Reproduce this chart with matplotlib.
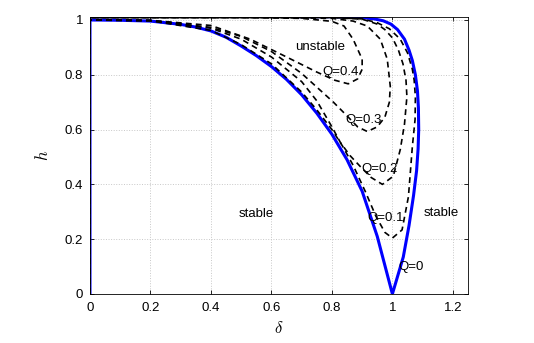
import numpy as np
import matplotlib.pyplot as plt

plt.rcParams['font.family'] = ['Liberation Sans', 'DejaVu Sans']
plt.rcParams['mathtext.fontset'] = 'cm'

# Q = 0 boundary (blue)
d_q0 = [0, 0, 0.1, 0.2, 0.3, 0.35, 0.4, 0.45, 0.5, 0.55, 0.6, 0.65, 0.7, 0.75, 0.8, 0.85,
        0.9, 0.95, 1.0, 1.036, 1.055, 1.07, 1.08, 1.085, 1.087, 1.086, 1.083, 1.076, 1.066,
        1.055, 1.04, 1.017, 0.995, 0.97, 0.94, 0.9, 0.8, 0.68]
h_q0 = [0, 1.0, 0.999, 0.996, 0.984, 0.974, 0.96, 0.937, 0.905, 0.87, 0.83, 0.783, 0.727,
        0.66, 0.583, 0.49, 0.375, 0.21, 0.0, 0.135, 0.25, 0.36, 0.45, 0.53, 0.6, 0.68, 0.74,
        0.8, 0.852, 0.89, 0.93, 0.965, 0.985, 0.997, 1.004, 1.009, 1.012, 1.012]

# dashed curves Q = 0.1 ... 0.4
d_q1 = [0, 0, 0.2, 0.4, 0.5, 0.6, 0.7, 0.75, 0.8, 0.835, 0.87, 0.91, 0.945, 0.975, 1.0,
        1.032, 1.053, 1.066, 1.075, 1.076, 1.072, 1.066, 1.05, 1.026, 0.99, 0.95, 0.9, 0.8,
        0.6, 0.3, 0]
h_q1 = [0, 1.0, 0.997, 0.962, 0.91, 0.84, 0.737, 0.672, 0.6, 0.54, 0.47, 0.375, 0.285,
        0.225, 0.204, 0.234, 0.355, 0.538, 0.637, 0.72, 0.78, 0.82, 0.88, 0.93, 0.968, 0.99,
        1.004, 1.009, 1.009, 1.009, 1.009]

d_q2 = [0, 0, 0.2, 0.4, 0.5, 0.6, 0.7, 0.75, 0.8, 0.828, 0.86, 0.894, 0.93, 0.967, 1.003,
        1.026, 1.04, 1.048, 1.045, 1.035, 1.02, 1.0, 0.975, 0.95, 0.9, 0.8, 0.6, 0.3, 0]
h_q2 = [0, 1.0, 0.998, 0.97, 0.93, 0.865, 0.775, 0.705, 0.61, 0.553, 0.505, 0.465, 0.425,
        0.40, 0.43, 0.527, 0.62, 0.72, 0.78, 0.84, 0.89, 0.935, 0.965, 0.985, 1.003, 1.009,
        1.009, 1.009, 1.009]

d_q3 = [0, 0, 0.2, 0.4, 0.5, 0.6, 0.7, 0.75, 0.805, 0.85, 0.885, 0.917, 0.95, 0.975, 0.99,
        0.993, 0.983, 0.96, 0.917, 0.87, 0.8, 0.6, 0.3, 0]
h_q3 = [0, 1.0, 0.998, 0.973, 0.94, 0.885, 0.805, 0.755, 0.70, 0.65, 0.61, 0.593, 0.61,
        0.645, 0.70, 0.758, 0.857, 0.93, 0.978, 0.996, 1.006, 1.009, 1.009, 1.009]

d_q4 = [0, 0, 0.2, 0.4, 0.53, 0.65, 0.75, 0.81, 0.854, 0.885, 0.9, 0.9, 0.87, 0.84, 0.8,
        0.7, 0.5, 0]
h_q4 = [0, 1.0, 0.999, 0.98, 0.93, 0.865, 0.81, 0.78, 0.767, 0.785, 0.82, 0.857, 0.93,
        0.978, 0.995, 1.006, 1.009, 1.009]

fig = plt.figure(figsize=(5.34, 3.43), dpi=100)
ax = fig.add_axes([0.1685, 0.1429, 0.7079, 0.8084])

ax.plot(d_q0, h_q0, color='#0000ff', lw=2.2, zorder=2, solid_joinstyle='round')
for d, h in [(d_q1, h_q1), (d_q2, h_q2), (d_q3, h_q3), (d_q4, h_q4)]:
    ax.plot(d, h, color='black', lw=1.2, dashes=(3.5, 2.5), zorder=3)

fs = 9.5
ax.text(0.76, 0.90, 'unstable', fontsize=fs, ha='center', va='center')
ax.text(0.83, 0.81, 'Q=0.4', fontsize=fs, ha='center', va='center')
ax.text(0.905, 0.634, 'Q=0.3', fontsize=fs, ha='center', va='center')
ax.text(0.957, 0.455, 'Q=0.2', fontsize=fs, ha='center', va='center')
ax.text(0.977, 0.278, 'Q=0.1', fontsize=fs, ha='center', va='center')
ax.text(1.063, 0.099, 'Q=0', fontsize=fs, ha='center', va='center')
ax.text(0.55, 0.293, 'stable', fontsize=fs, ha='center', va='center')
ax.text(1.162, 0.297, 'stable', fontsize=fs, ha='center', va='center')

ax.set_xlim(0, 1.25)
ax.set_ylim(0, 1.012)
ax.set_xticks([0, 0.2, 0.4, 0.6, 0.8, 1, 1.2])
ax.set_xticklabels(['0', '0.2', '0.4', '0.6', '0.8', '1', '1.2'])
ax.set_yticks([0, 0.2, 0.4, 0.6, 0.8, 1])
ax.set_yticklabels(['0', '0.2', '0.4', '0.6', '0.8', '1'])
ax.tick_params(direction='in', top=True, right=True, labelsize=fs, length=3, width=0.6)
ax.tick_params(axis='x', pad=6)
ax.tick_params(axis='y', pad=5)
ax.grid(True, linestyle=':', color='#c8c8c8', lw=0.7)
for s in ax.spines.values():
    s.set_linewidth(0.6)

ax.set_xlabel(r'$\delta$', fontsize=12, labelpad=4)
ax.set_ylabel(r'$h$', fontsize=12, labelpad=10)

fig.savefig('out.png', dpi=100)
